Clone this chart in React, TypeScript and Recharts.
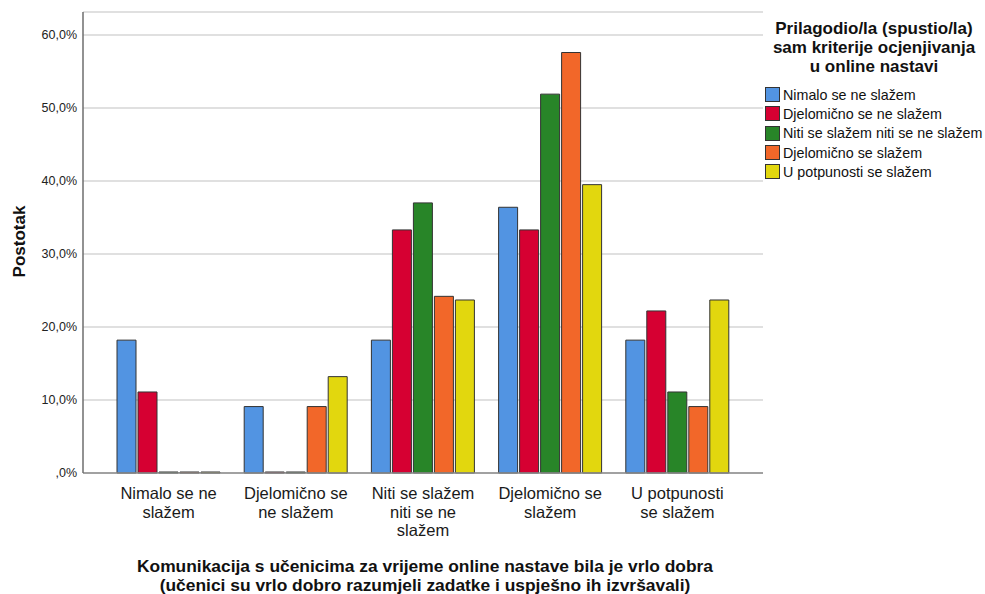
import { BarChart, Bar, XAxis, YAxis, CartesianGrid, Legend } from "recharts";

const FONT = '"Liberation Sans", Arial, sans-serif';

// categories on the x axis (answers to the communication question)
const categories = [
  "Nimalo se ne slažem",
  "Djelomično se ne slažem",
  "Niti se slažem niti se ne slažem",
  "Djelomično se slažem",
  "U potpunosti se slažem",
];

// legend groups (answers to the "adjusted criteria" question)
const seriesNames = [
  "Nimalo se ne slažem",
  "Djelomično se ne slažem",
  "Niti se slažem niti se ne slažem",
  "Djelomično se slažem",
  "U potpunosti se slažem",
];
const seriesColors = ["#5294e2", "#d60032", "#288528", "#f26729", "#e2d70e"];

// percentages per category, one array per legend group
const nimalo = [18.2, 9.1, 18.2, 36.4, 18.2];
const djelomicnoNe = [11.1, 0, 33.3, 33.3, 22.2];
const niti = [0, 0, 37.0, 51.9, 11.1];
const djelomicnoDa = [0, 9.1, 24.2, 57.6, 9.1];
const potpuno = [0, 13.2, 23.7, 39.5, 23.7];
const seriesValues = [nimalo, djelomicnoNe, niti, djelomicnoDa, potpuno];

const yTicks = [0, 10, 20, 30, 40, 50, 60];

const legendTitle = ["Prilagodio/la (spustio/la)", "sam kriterije ocjenjivanja", "u online nastavi"];
const xTitle = [
  "Komunikacija s učenicima za vrijeme online nastave bila je vrlo dobra",
  "(učenici su vrlo dobro razumjeli zadatke i uspješno ih izvršavali)",
];
const yTitle = "Postotak";

const data = categories.map((name, i) => {
  const row: any = { name };
  seriesValues.forEach((vals, s) => {
    row["s" + s] = vals[i];
  });
  return row;
});

// greedy word wrap for the category labels
function wrap(text: string, max: number) {
  const lines: string[] = [];
  let cur = "";
  text.split(" ").forEach((w) => {
    const next = cur ? cur + " " + w : w;
    if (next.length > max && cur) {
      lines.push(cur);
      cur = w;
    } else {
      cur = next;
    }
  });
  if (cur) lines.push(cur);
  return lines;
}

const CategoryTick = ({ x, y, payload }: any) => {
  const lines = wrap(payload.value, 14);
  return (
    <text x={x} y={y} textAnchor="middle" fontFamily={FONT} fontSize={16.5} fill="#1a1a1a">
      {lines.map((l, i) => (
        <tspan key={i} x={x} dy={i === 0 ? 26 : 18.5}>
          {l}
        </tspan>
      ))}
    </text>
  );
};

const fmtPct = (v: number) => (v === 0 ? ",0%" : v.toFixed(1).replace(".", ",") + "%");

const LegendBox = () => (
  <div style={{ fontFamily: FONT, color: "#111" }}>
    <div style={{ paddingTop: 19, textAlign: "center", fontWeight: "bold", fontSize: 17, lineHeight: "19px" }}>
      {legendTitle.map((l) => (
        <div key={l}>{l}</div>
      ))}
    </div>
    <div style={{ marginTop: 9, paddingLeft: 2 }}>
      {seriesNames.map((n, i) => (
        <div key={n} style={{ display: "flex", alignItems: "center", height: 19.3, fontSize: 14.3 }}>
          <span
            style={{
              display: "inline-block",
              width: 13,
              height: 13,
              background: seriesColors[i],
              border: "1px solid #333",
              marginRight: 3,
            }}
          />
          <span>{n}</span>
        </div>
      ))}
    </div>
  </div>
);

export default function App() {
  return (
    <div style={{ position: "absolute", left: 0, top: 0, background: "#fff" }}>
      <BarChart
        width={985}
        height={594}
        data={data}
        margin={{ top: 12, right: 222, bottom: 0, left: 0 }}
        barCategoryGap={12}
        barGap={2}
      >
        <CartesianGrid vertical={false} stroke="#d6d6d6" strokeWidth={1.5} />
        <XAxis
          dataKey="name"
          height={121}
          padding={{ left: 22, right: 22 }}
          axisLine={{ stroke: "#8c8c8c", strokeWidth: 1.5 }}
          tickLine={false}
          tickSize={0}
          tickMargin={0}
          interval={0}
          tick={<CategoryTick />}
          label={{
            content: ({ viewBox }: any) => {
              const cx = viewBox.x + viewBox.width / 2 + 2;
              return (
                <text x={cx} y={viewBox.y} textAnchor="middle" fontFamily={FONT} fontWeight="bold" fontSize={17.4} fill="#111">
                  {xTitle.map((l, i) => (
                    <tspan key={i} x={cx} dy={i === 0 ? 99 : 19}>
                      {l}
                    </tspan>
                  ))}
                </text>
              );
            },
          }}
        />
        <YAxis
          width={83}
          domain={[0, 63.15]}
          ticks={yTicks}
          tickFormatter={fmtPct}
          axisLine={{ stroke: "#6e6e6e", strokeWidth: 1.5 }}
          tickLine={false}
          tickSize={0}
          tickMargin={6}
          tick={{ fontFamily: FONT, fontSize: 12.5, fill: "#222" }}
          label={{
            content: ({ viewBox }: any) => {
              const cx = 19;
              const cy = viewBox.y + viewBox.height / 2 - 1;
              return (
                <text
                  x={cx}
                  y={cy}
                  transform={`rotate(-90, ${cx}, ${cy})`}
                  textAnchor="middle"
                  dominantBaseline="central"
                  fontFamily={FONT}
                  fontWeight="bold"
                  fontSize={17}
                  fill="#111"
                >
                  {yTitle}
                </text>
              );
            },
          }}
        />
        <Legend
          layout="vertical"
          align="center"
          verticalAlign="middle"
          wrapperStyle={{ left: 763, top: 0, width: 222 }}
          content={() => <LegendBox />}
        />
        {seriesNames.map((n, i) => (
          <Bar
            key={n}
            dataKey={"s" + i}
            name={n}
            fill={seriesColors[i]}
            stroke="#333"
            strokeWidth={1}
            minPointSize={1}
            isAnimationActive={false}
          />
        ))}
      </BarChart>
    </div>
  );
}
